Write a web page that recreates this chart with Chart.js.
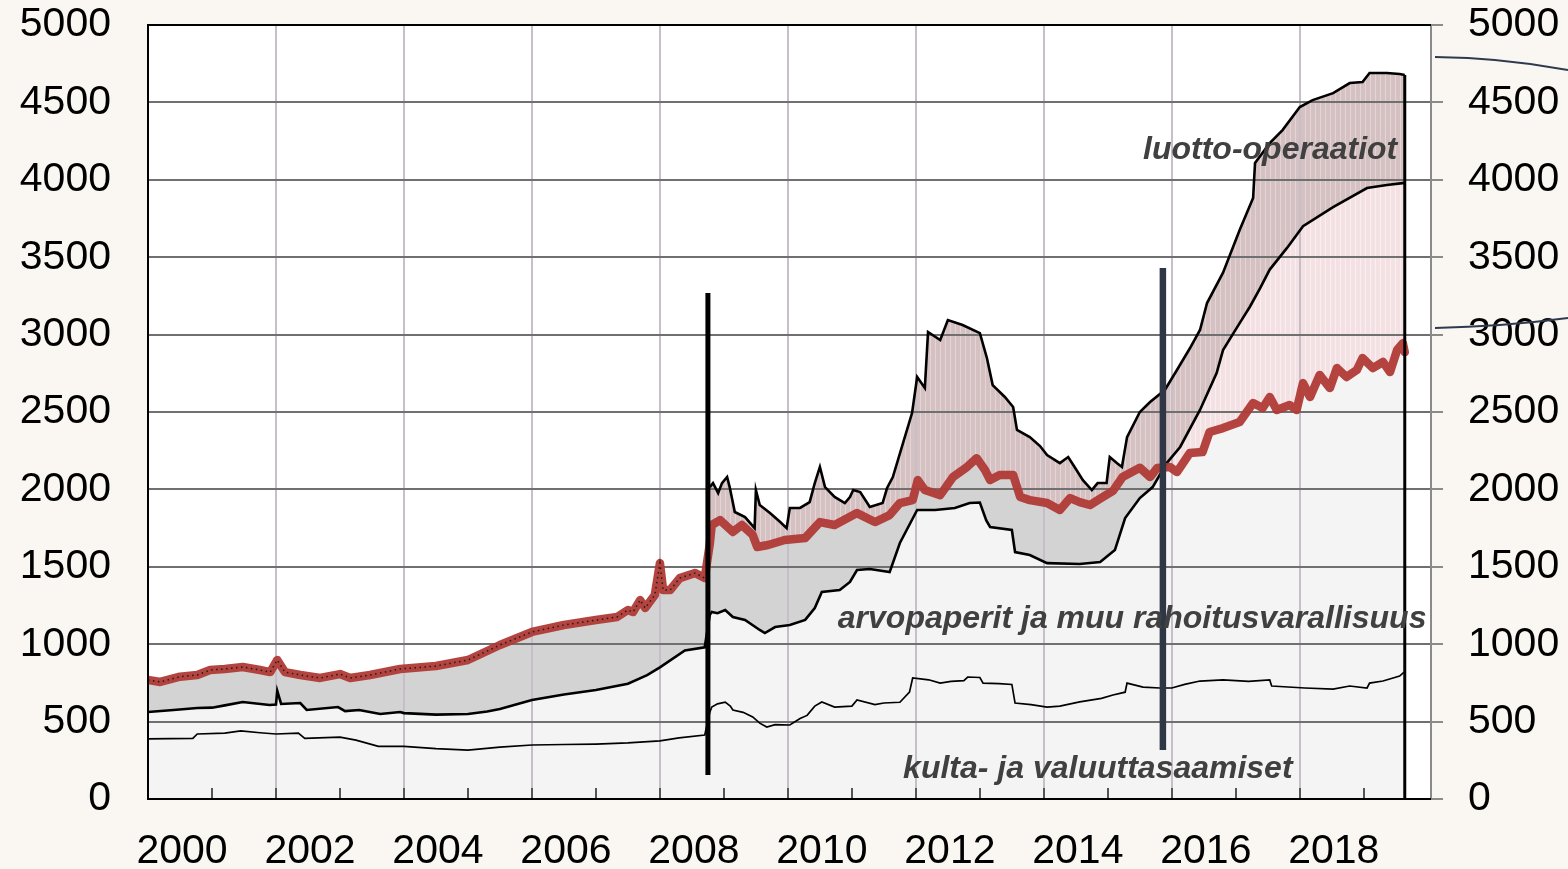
<!DOCTYPE html>
<html>
<head>
<meta charset="utf-8">
<script src="https://cdn.jsdelivr.net/npm/chart.js@4.4.1/dist/chart.umd.min.js"></script>
<style>
html,body{margin:0;padding:0;background:#faf6f1;}
canvas{display:block;}
</style>
</head>
<body>
<canvas id="c" width="1568" height="869"></canvas>
<script>
// ---- DATA (decimal years, billions EUR) ----
const goldX = [2000.00,2000.70,2000.77,2001.20,2001.45,2001.75,2002.00,2002.35,2002.45,2003.00,2003.25,2003.60,2004.00,2004.50,2005.00,2005.50,2006.00,2006.50,2007.00,2007.50,2008.00,2008.30,2008.70,
 2008.78,2008.81,2008.90,2009.02,2009.10,2009.14,2009.30,2009.45,2009.56,2009.67,2009.80,2010.03,2010.19,2010.30,2010.42,2010.53,2010.73,2011.00,2011.08,2011.36,2011.50,2011.75,2011.90,2011.95,2012.20,2012.38,2012.55,2012.75,2012.81,2013.00,2013.05,2013.30,2013.50,2013.55,2013.80,2014.05,2014.25,2014.56,2014.90,2015.08,2015.27,2015.30,2015.55,2015.81,2016.00,2016.20,2016.44,2016.80,2017.20,2017.53,2017.56,2018.08,2018.52,2018.78,2019.05,2019.09,2019.30,2019.56,2019.63];
const goldY = [388,392,420,425,440,428,420,425,392,400,380,340,340,325,316,335,349,352,355,362,375,395,413,
 560,594,615,626,600,575,560,530,490,465,480,478,520,540,600,627,594,600,640,610,620,625,690,782,770,749,760,765,788,785,749,745,740,620,610,594,600,627,650,672,690,749,723,717,717,740,762,769,760,769,730,717,710,730,717,749,762,794,820];

const secX = [2000.00,2000.40,2000.77,2001.00,2001.20,2001.48,2001.90,2002.00,2002.02,2002.08,2002.38,2002.48,2002.97,2003.08,2003.30,2003.63,2003.94,2004.00,2004.50,2005.00,2005.30,2005.50,2006.00,2006.50,2007.00,2007.50,2007.80,2008.00,2008.39,2008.70,
 2008.78,2008.81,2008.90,2009.02,2009.14,2009.33,2009.56,2009.64,2009.80,2010.03,2010.27,2010.42,2010.53,2010.81,2010.97,2011.08,2011.28,2011.59,2011.75,2012.02,2012.30,2012.61,2012.84,2013.00,2013.10,2013.16,2013.50,2013.55,2013.78,2014.05,2014.56,2014.88,2015.11,2015.27,2015.50,2015.70,2015.92,2016.13,2016.44,2016.70,2016.80,2017.06,2017.22,2017.38,2017.53,2017.80,2018.05,2018.52,2019.05,2019.36,2019.64];
const secY = [562,575,588,590,605,627,607,610,698,614,620,575,594,568,575,549,562,555,545,549,565,581,640,675,704,745,800,850,960,980,
 1190,1208,1200,1221,1176,1157,1092,1072,1111,1124,1157,1234,1337,1350,1402,1479,1486,1466,1654,1867,1867,1880,1912,1915,1800,1757,1738,1595,1576,1524,1518,1531,1608,1815,1944,2015,2170,2274,2513,2752,2900,3074,3180,3300,3420,3560,3700,3824,3947,3966,3980];

const redX = [2000.00,2000.19,2000.50,2000.77,2000.97,2001.20,2001.48,2001.75,2001.91,2002.02,2002.14,2002.38,2002.69,2003.00,2003.16,2003.47,2003.94,2004.50,2005.00,2005.50,2006.00,2006.50,2007.00,2007.33,2007.50,2007.58,2007.69,2007.77,2007.92,2008.00,2008.05,2008.16,2008.31,2008.55,2008.70,
 2008.78,2008.81,2008.94,2009.14,2009.28,2009.45,2009.52,2009.69,2009.95,2010.27,2010.50,2010.73,2011.08,2011.36,2011.59,2011.75,2011.95,2012.03,2012.14,2012.38,2012.58,2012.80,2012.95,2013.08,2013.16,2013.31,2013.52,2013.63,2013.78,2014.05,2014.25,2014.41,2014.56,2014.72,2014.88,2015.08,2015.23,2015.50,2015.66,2015.77,2015.97,2016.08,2016.28,2016.48,2016.59,2016.80,2017.06,2017.27,2017.42,2017.53,2017.64,2017.84,2017.95,2018.05,2018.16,2018.31,2018.47,2018.58,2018.73,2018.89,2018.98,2019.14,2019.30,2019.41,2019.52,2019.61,2019.64];
const redY = [769,756,790,801,833,840,853,833,820,898,820,801,782,807,782,801,840,859,898,995,1079,1124,1156,1176,1221,1208,1285,1234,1318,1524,1350,1350,1427,1460,1427,
 1650,1770,1802,1725,1770,1706,1628,1641,1673,1686,1789,1770,1847,1789,1834,1912,1931,2060,1996,1963,2080,2145,2202,2125,2060,2093,2093,1951,1931,1912,1867,1944,1918,1899,1940,1990,2080,2140,2080,2138,2145,2112,2235,2241,2371,2396,2435,2558,2526,2597,2513,2545,2513,2687,2597,2739,2655,2784,2726,2771,2849,2784,2823,2758,2900,2945,2887];

const totX = [2008.78,2008.83,2008.91,2008.97,2009.05,2009.09,2009.17,2009.33,2009.48,2009.50,2009.56,2009.72,2009.88,2009.98,2010.03,2010.19,2010.34,2010.42,2010.50,2010.58,2010.73,2010.89,2010.97,2011.02,2011.13,2011.28,2011.48,2011.55,2011.64,2011.80,2011.94,2012.02,2012.14,2012.19,2012.38,2012.50,2012.73,2013.00,2013.11,2013.20,2013.39,2013.52,2013.58,2013.78,2013.94,2014.05,2014.25,2014.38,2014.48,2014.61,2014.75,2014.84,2014.98,2015.03,2015.14,2015.22,2015.30,2015.50,2015.66,2015.89,2016.08,2016.28,2016.44,2016.55,2016.80,2017.06,2017.27,2017.30,2017.53,2017.73,2018.00,2018.20,2018.52,2018.78,2018.98,2019.09,2019.36,2019.56,2019.64];
const totY = [2015,2041,1976,2041,2080,2015,1854,1821,1750,1996,1899,1847,1789,1750,1880,1880,1918,2041,2145,2015,1951,1912,1951,1996,1983,1886,1912,2009,2080,2300,2493,2726,2655,3017,2965,3094,3062,3010,2849,2674,2597,2532,2384,2338,2280,2222,2170,2209,2145,2060,1996,2041,2041,2209,2170,2145,2338,2500,2564,2642,2771,2910,3030,3204,3400,3675,3882,4108,4237,4321,4470,4515,4560,4625,4632,4690,4690,4683,4677];

// axis ticks / labels
const yTicks = [0,500,1000,1500,2000,2500,3000,3500,4000,4500,5000];
const xTickYears = [2000,2001,2002,2003,2004,2005,2006,2007,2008,2009,2010,2011,2012,2013,2014,2015,2016,2017,2018,2019,2020];
const xLabelYears = [2000,2002,2004,2006,2008,2010,2012,2014,2016,2018];
const xGridYears = [2002,2004,2006,2008,2010,2012,2014,2016,2018];

// vertical marker lines: date, top value, bottom value
const markerDates = [2008.75, 2015.86];
const markerTops = [3269, 3430];
const markerBottoms = [155, 317];

// annotation labels
const noteTexts = ['luotto-operaatiot', 'arvopaperit ja muu rahoitusvarallisuus', 'kulta- ja valuuttasaamiset'];
const noteX = [2015.55, 2010.78, 2011.80];
const noteY = [4193, 1163, 194];

// ---- helpers ----
const pts = (xs, ys) => xs.map((x, i) => ({x, y: ys[i]}));
function makePattern(base, stripe, w) {
  const c = document.createElement('canvas'); c.width = w; c.height = 8;
  const g = c.getContext('2d');
  g.fillStyle = base; g.fillRect(0, 0, w, 8);
  g.fillStyle = stripe; g.fillRect(0, 0, 1, 8);
  return document.getElementById('c').getContext('2d').createPattern(c, 'repeat');
}
const mauve = makePattern('#d5c0c2', '#e3d5d6', 5);
const pink = makePattern('#f4e1e3', '#faeff0', 5);
const FONT = "'Liberation Sans', Arial, sans-serif";

const redPre = pts(redX, redY).filter(p => p.x < 2008.75);

const decor = {
  id: 'decor',
  beforeDraw(chart) {
    const {ctx, chartArea: a} = chart;
    ctx.save();
    ctx.fillStyle = '#faf6f1';
    ctx.fillRect(0, 0, chart.width, chart.height);
    ctx.fillStyle = '#ffffff';
    ctx.fillRect(a.left, a.top, a.right - a.left, a.bottom - a.top);
    ctx.restore();
  },
  beforeDatasetsDraw(chart) {
    const {ctx, chartArea: a, scales} = chart;
    const x = scales.x, y = scales.y;
    ctx.save();
    ctx.lineWidth = 2;
    ctx.strokeStyle = '#c6bec8';
    xGridYears.forEach(yr => {
      const px = Math.round(x.getPixelForValue(yr));
      ctx.beginPath(); ctx.moveTo(px, a.top); ctx.lineTo(px, a.bottom); ctx.stroke();
    });
    ctx.strokeStyle = '#707070';
    yTicks.forEach(v => {
      if (v <= 0 || v >= 5000) return;
      const py = Math.round(y.getPixelForValue(v));
      ctx.beginPath(); ctx.moveTo(a.left, py); ctx.lineTo(a.right, py); ctx.stroke();
    });
    ctx.restore();
  },
  afterDatasetsDraw(chart) {
    const {ctx, chartArea: a, scales} = chart;
    const x = scales.x, y = scales.y;
    ctx.save();
    // end-of-data drop line
    const lx = x.getPixelForValue(totX[totX.length - 1]);
    ctx.strokeStyle = '#000'; ctx.lineWidth = 3;
    ctx.beginPath(); ctx.moveTo(lx, y.getPixelForValue(totY[totY.length - 1])); ctx.lineTo(lx, y.getPixelForValue(0)); ctx.stroke();
    // marker lines
    const mCol = ['#000000', '#2f3747'];
    const mW = [5, 6.5];
    markerDates.forEach((d, i) => {
      const px = x.getPixelForValue(d);
      ctx.strokeStyle = mCol[i]; ctx.lineWidth = mW[i];
      ctx.beginPath(); ctx.moveTo(px, y.getPixelForValue(markerTops[i])); ctx.lineTo(px, y.getPixelForValue(markerBottoms[i])); ctx.stroke();
    });
    // inner ticks on x axis
    ctx.strokeStyle = '#555'; ctx.lineWidth = 2;
    xTickYears.forEach(yr => {
      if (yr <= 2000 || yr >= 2020) return;
      const px = Math.round(x.getPixelForValue(yr));
      ctx.beginPath(); ctx.moveTo(px, a.bottom); ctx.lineTo(px, a.bottom - 11); ctx.stroke();
    });
    // frame
    ctx.lineWidth = 2;
    ctx.strokeStyle = '#8a8a8a';
    ctx.beginPath(); ctx.moveTo(a.right, a.top); ctx.lineTo(a.right, a.bottom + 1); ctx.stroke();
    ctx.strokeStyle = '#000';
    ctx.beginPath(); ctx.moveTo(a.left, a.top); ctx.lineTo(a.right, a.top); ctx.stroke();
    ctx.beginPath(); ctx.moveTo(a.left, a.top); ctx.lineTo(a.left, a.bottom); ctx.lineTo(a.right, a.bottom); ctx.stroke();
    // annotations
    ctx.fillStyle = '#404040';
    ctx.font = 'bold italic 32px ' + FONT;
    ctx.textBaseline = 'middle'; ctx.textAlign = 'left';
    noteTexts.forEach((t, i) => ctx.fillText(t, x.getPixelForValue(noteX[i]), y.getPixelForValue(noteY[i])));
    // leader lines to the right
    ctx.strokeStyle = '#2f3a4e'; ctx.lineWidth = 2;
    ctx.beginPath();
    ctx.moveTo(a.right + 4, y.getPixelForValue(4793));
    ctx.quadraticCurveTo(a.right + 70, y.getPixelForValue(4790), chart.width, y.getPixelForValue(4709));
    ctx.stroke();
    ctx.beginPath();
    ctx.moveTo(a.right + 4, y.getPixelForValue(3043));
    ctx.quadraticCurveTo(a.right + 70, y.getPixelForValue(3050), chart.width, y.getPixelForValue(3107));
    ctx.stroke();
    ctx.restore();
  }
};

const noPad = s => { s.paddingTop = 0; s.paddingBottom = 0; s.paddingLeft = 0; s.paddingRight = 0; };

new Chart(document.getElementById('c'), {
  type: 'line',
  data: {
    datasets: [
      { // 0: dotted core of the red line before 2008
        data: redPre, borderColor: 'rgba(20,20,20,0.9)', borderWidth: 1.5, borderDash: [1.5, 3.5],
        pointRadius: 0, fill: false, yAxisID: 'y'
      },
      { // 1: red line
        data: pts(redX, redY), borderColor: 'rgba(176,58,54,0.95)', borderWidth: 8.5,
        borderJoinStyle: 'round', borderCapStyle: 'round', pointRadius: 0,
        fill: {target: 3, above: '#d3d3d3', below: pink}, yAxisID: 'y'
      },
      { // 2: gold and FX
        data: pts(goldX, goldY), borderColor: '#000', borderWidth: 1.7, pointRadius: 0, fill: false, yAxisID: 'y'
      },
      { // 3: securities
        data: pts(secX, secY), borderColor: '#000', borderWidth: 2.6, pointRadius: 0,
        backgroundColor: '#f4f4f4', fill: 'origin', yAxisID: 'y'
      },
      { // 4: total incl. credit operations
        data: pts(totX, totY), borderColor: '#000', borderWidth: 2.6, pointRadius: 0,
        fill: {target: 1, above: mauve, below: mauve}, yAxisID: 'y'
      }
    ]
  },
  options: {
    responsive: false,
    animation: false,
    devicePixelRatio: 1,
    layout: {padding: {top: 25, left: 0, right: 0, bottom: 0}},
    elements: {line: {tension: 0}},
    plugins: {
      legend: {display: false},
      tooltip: {enabled: false},
      filler: {drawTime: 'beforeDatasetsDraw', propagate: false}
    },
    scales: {
      x: {
        type: 'linear', min: 2000, max: 2020.05,
        afterBuildTicks: s => { s.ticks = xTickYears.map(v => ({value: v})); },
        afterFit: s => { s.height = 70; noPad(s); },
        grid: {drawOnChartArea: false, drawTicks: false},
        border: {color: '#000', width: 2},
        ticks: {
          autoSkip: false, maxRotation: 0, minRotation: 0, labelOffset: 34, padding: 28,
          color: '#000', font: {family: FONT, size: 41},
          callback: v => xLabelYears.includes(v) ? String(v) : ''
        }
      },
      y: {
        position: 'left', min: 0, max: 5000,
        afterBuildTicks: s => { s.ticks = yTicks.map(v => ({value: v})); },
        afterFit: s => { s.width = 148; noPad(s); },
        grid: {drawOnChartArea: false, drawTicks: false},
        border: {color: '#000', width: 2},
        ticks: {padding: 37, color: '#000', font: {family: FONT, size: 41}, callback: v => String(v)}
      },
      y2: {
        position: 'right', min: 0, max: 5000,
        afterBuildTicks: s => { s.ticks = yTicks.map(v => ({value: v})); },
        afterFit: s => { s.width = 137; noPad(s); },
        grid: {drawOnChartArea: false, drawTicks: true, tickLength: 12, tickColor: '#8a8a8a', lineWidth: 2},
        border: {color: '#8a8a8a', width: 2},
        ticks: {padding: 25, color: '#000', font: {family: FONT, size: 41}, callback: v => String(v)}
      }
    }
  },
  plugins: [decor]
});
</script>
</body>
</html>
